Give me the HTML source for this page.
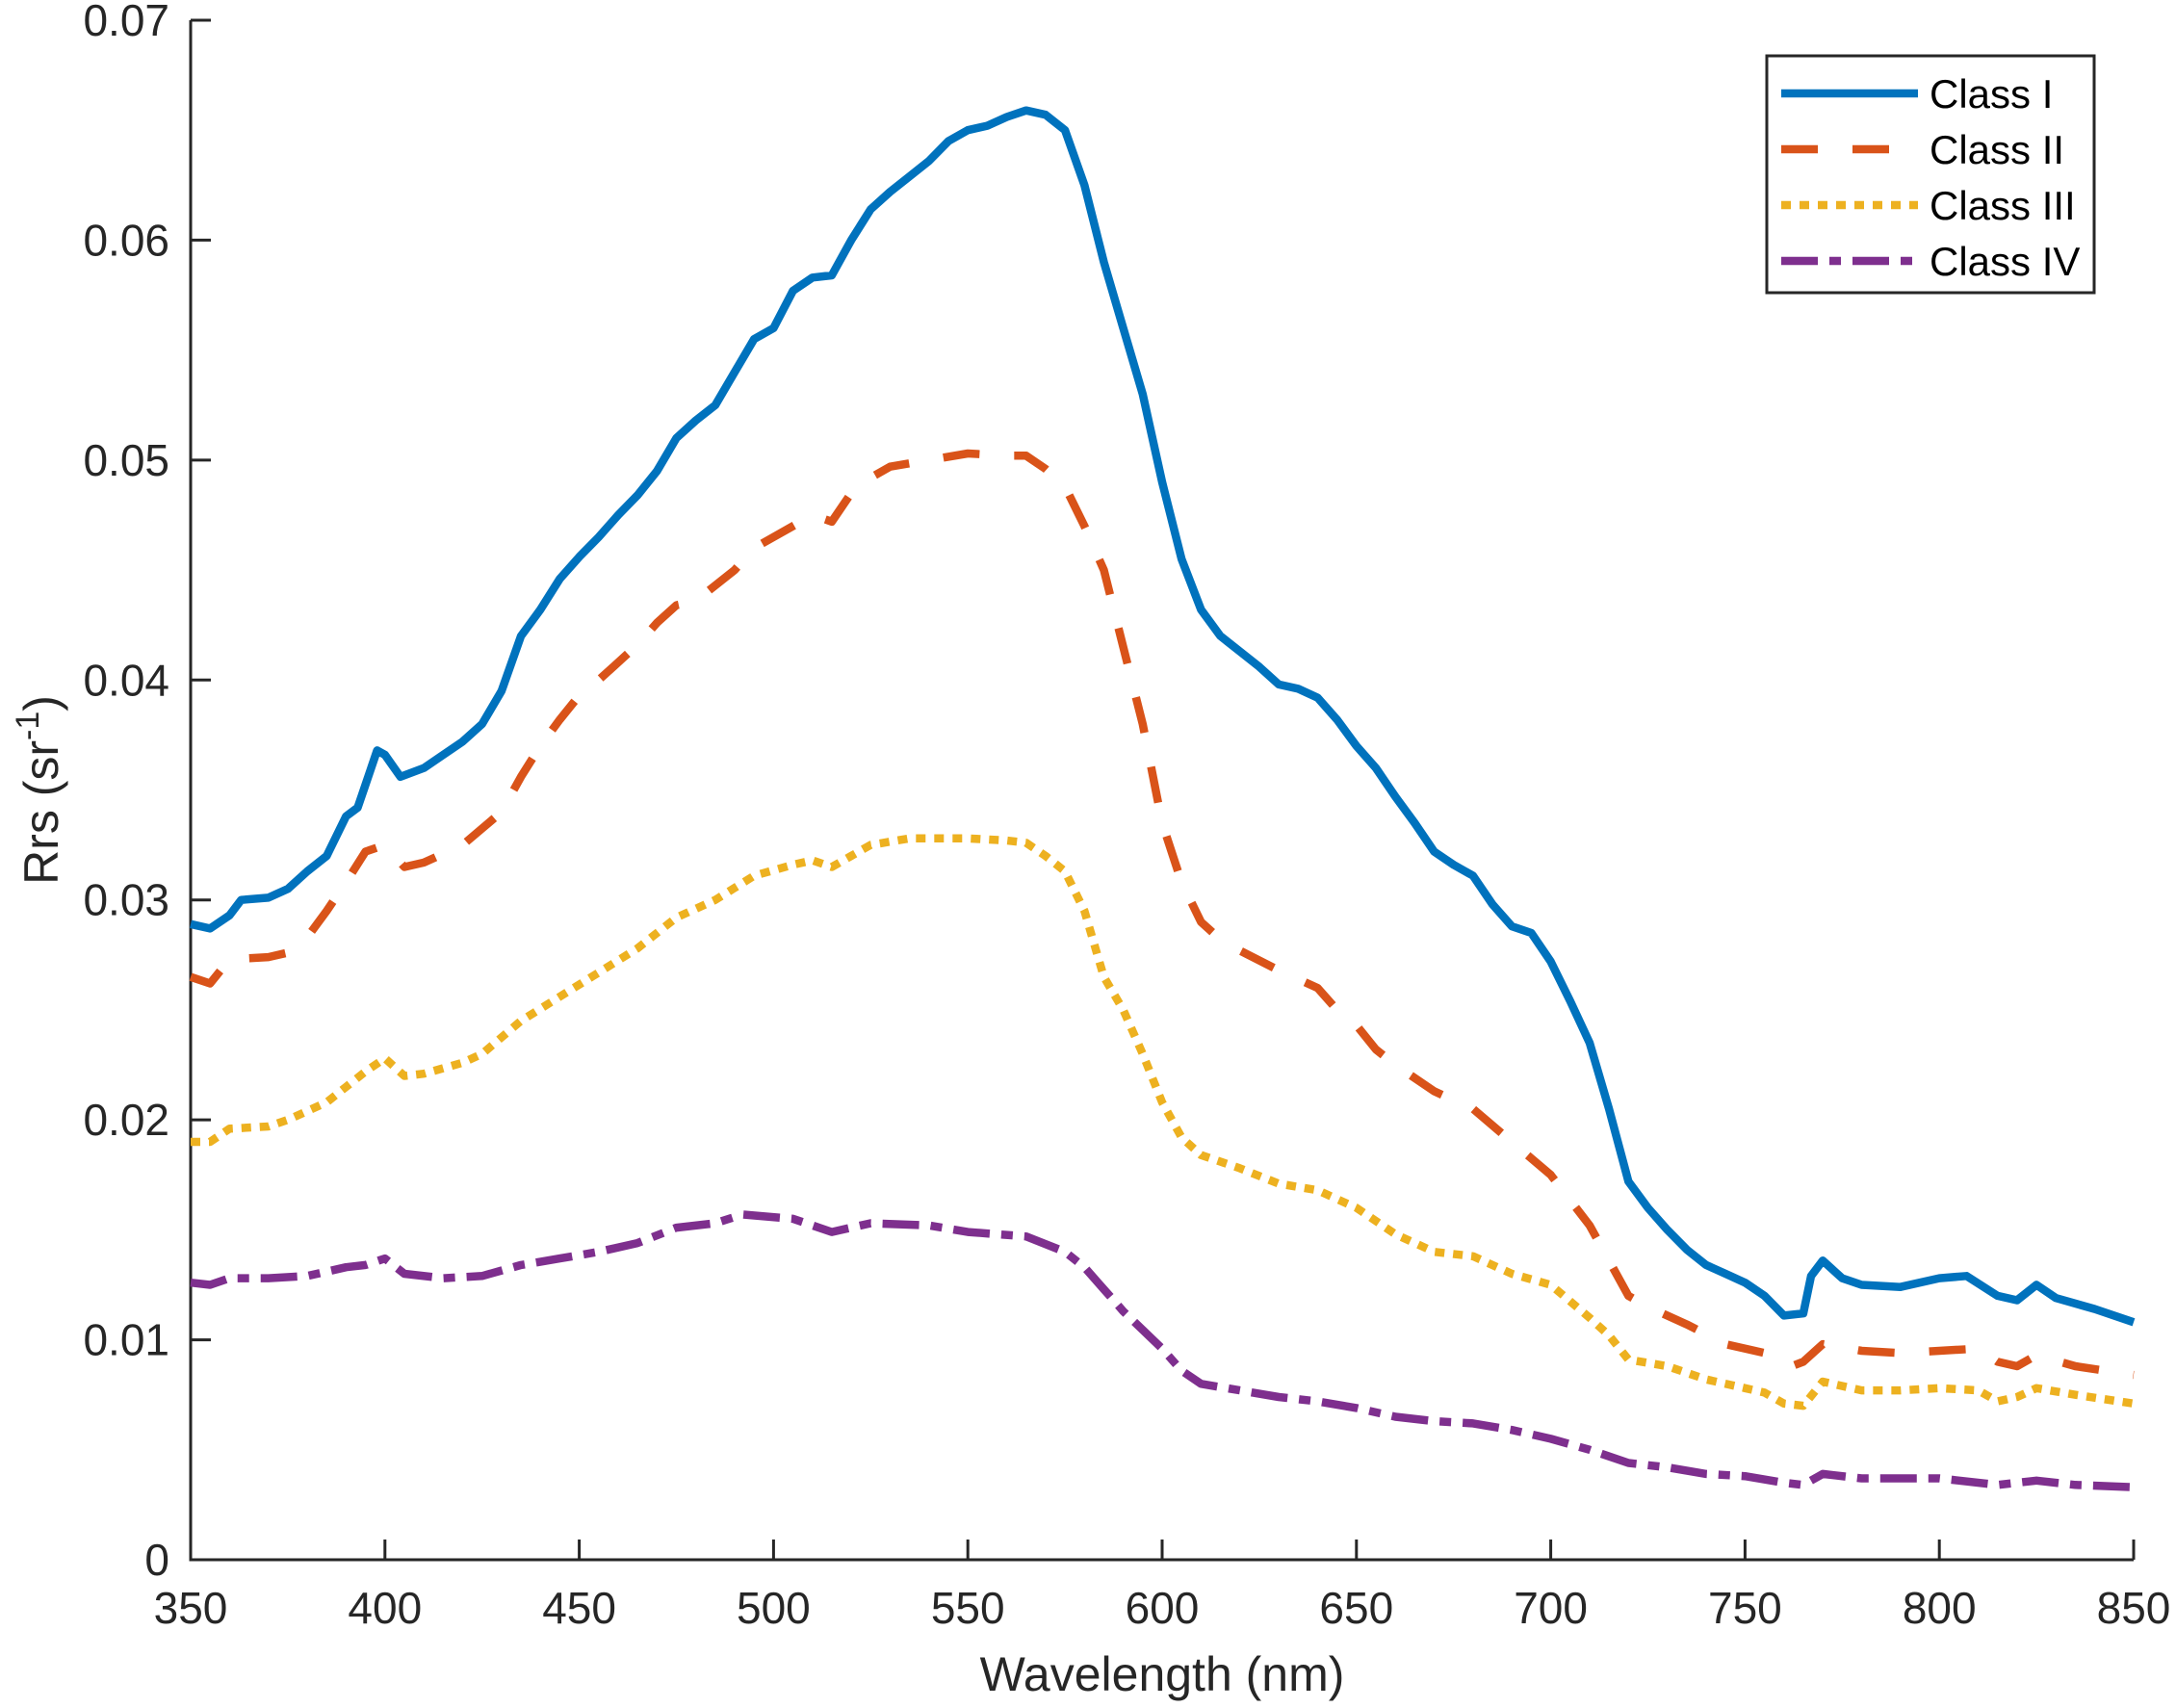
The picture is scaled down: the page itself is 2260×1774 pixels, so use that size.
<!DOCTYPE html>
<html><head><meta charset="utf-8"><style>
html,body{margin:0;padding:0;background:#fff;}
svg{display:block;font-family:"Liberation Sans",Arial,sans-serif;}
</style></head><body>
<svg id="chart" width="2260" height="1774" viewBox="0 0 2260 1774" xmlns="http://www.w3.org/2000/svg"></svg>
<script>
const xTicks=[350,400,450,500,550,600,650,700,750,800,850];
const yTicks=[0,0.01,0.02,0.03,0.04,0.05,0.06,0.07];
const yTickLabels=["0","0.01","0.02","0.03","0.04","0.05","0.06","0.07"];
const seriesNames=["Class I","Class II","Class III","Class IV"];
const wl1=[350,355,360,363,370,375,380,385,390,393,398,400,404,410,415,420,425,430,435,440,445,450,455,460,465,470,475,480,485,490,495,500,505,510,515,520,525,530,535,540,545,550,555,560,565,570,575,580,585,590,595,600,605,610,615,620,625,630,635,640,645,650,655,660,665,670,675,680,685,690,695,700,705,710,715,720,725,730,735,740,745,750,755,760,765,767,770,775,780,790,800,807,815,820,825,830,840,850];
const rrs1=[0.0289,0.0287,0.0293,0.0300,0.0301,0.0305,0.0313,0.0320,0.0338,0.0342,0.0368,0.0366,0.0356,0.0360,0.0366,0.0372,0.0380,0.0395,0.0420,0.0432,0.0446,0.0456,0.0465,0.0475,0.0484,0.0495,0.0510,0.0518,0.0525,0.0540,0.0555,0.0560,0.0577,0.0583,0.0584,0.0600,0.0614,0.0622,0.0629,0.0636,0.0645,0.0650,0.0652,0.0656,0.0659,0.0657,0.0650,0.0625,0.0590,0.0560,0.0530,0.0490,0.0455,0.0432,0.0420,0.0413,0.0406,0.0398,0.0396,0.0392,0.0382,0.0370,0.0360,0.0347,0.0335,0.0322,0.0316,0.0311,0.0298,0.0288,0.0285,0.0272,0.0254,0.0235,0.0205,0.0172,0.0160,0.0150,0.0141,0.0134,0.0130,0.0126,0.0120,0.0111,0.0112,0.0129,0.0136,0.0128,0.0125,0.0124,0.0128,0.0129,0.0120,0.0118,0.0125,0.0119,0.0114,0.0108];
const wl2=[350,355,360,370,375,380,385,390,395,400,405,410,420,430,435,440,445,450,455,460,465,470,475,480,490,495,500,510,515,520,525,530,540,550,560,565,570,575,580,585,590,595,600,605,610,615,620,630,640,645,650,655,660,670,680,690,700,710,720,725,735,745,755,762,765,770,780,790,800,810,815,820,825,835,850];
const rrs2=[0.0265,0.0262,0.0273,0.0274,0.0276,0.0283,0.0295,0.0308,0.0322,0.0325,0.0315,0.0317,0.0325,0.0340,0.0356,0.0370,0.0382,0.0393,0.0400,0.0408,0.0416,0.0426,0.0434,0.0436,0.0450,0.0460,0.0465,0.0475,0.0472,0.0485,0.0492,0.0497,0.0500,0.0503,0.0502,0.0502,0.0496,0.0488,0.0470,0.0450,0.0415,0.0380,0.0335,0.0308,0.0290,0.0282,0.0277,0.0268,0.0260,0.0250,0.0243,0.0232,0.0225,0.0213,0.0205,0.0190,0.0175,0.0152,0.0120,0.0115,0.0107,0.0098,0.0094,0.0088,0.0090,0.0098,0.0095,0.0094,0.0095,0.0096,0.0090,0.0088,0.0093,0.0088,0.0084];
const wl3=[350,355,360,370,375,385,390,395,400,405,410,420,425,435,445,455,465,475,485,495,505,510,515,520,525,535,550,560,565,570,575,580,585,590,595,600,605,610,620,630,640,650,660,670,680,690,700,710,715,720,730,740,750,755,760,765,770,780,790,800,810,815,820,825,835,850];
const rrs3=[0.0190,0.0190,0.0196,0.0197,0.0200,0.0208,0.0215,0.0222,0.0228,0.0220,0.0221,0.0226,0.0230,0.0245,0.0256,0.0267,0.0278,0.0292,0.0300,0.0311,0.0316,0.0318,0.0315,0.0320,0.0325,0.0328,0.0328,0.0327,0.0326,0.0320,0.0313,0.0295,0.0265,0.0250,0.0230,0.0208,0.0192,0.0184,0.0178,0.0171,0.0168,0.0160,0.0148,0.0140,0.0138,0.0130,0.0125,0.0110,0.0102,0.0091,0.0088,0.0082,0.0078,0.0076,0.0071,0.0070,0.0081,0.0077,0.0077,0.0078,0.0077,0.0072,0.0074,0.0078,0.0075,0.0071];
const wl4=[350,355,360,370,380,390,395,400,405,415,425,435,445,455,465,475,485,492,505,515,525,540,550,565,575,580,590,600,605,610,620,630,640,650,660,670,680,690,700,710,720,730,740,750,760,765,770,780,800,815,825,835,850];
const rrs4=[0.0126,0.0125,0.0128,0.0128,0.0129,0.0133,0.0134,0.0137,0.0130,0.0128,0.0129,0.0134,0.0137,0.0140,0.0144,0.0151,0.0153,0.0157,0.0155,0.0149,0.0153,0.0152,0.0149,0.0147,0.0140,0.0133,0.0113,0.0096,0.0086,0.0080,0.0077,0.0074,0.0072,0.0069,0.0065,0.0063,0.0062,0.0059,0.0055,0.0050,0.0044,0.0042,0.0039,0.0038,0.0035,0.0034,0.0039,0.0037,0.0037,0.0034,0.0036,0.0034,0.0033];

const X0=198,X1=2216,Y0=1620,Y1=21;
const xS=w=>X0+(w-350)*(X1-X0)/500;
const yS=v=>Y0-v*(Y0-Y1)/0.07;
const NS="http://www.w3.org/2000/svg";
const svg=document.getElementById('chart');
function mk(tag,attrs,parent){const e=document.createElementNS(NS,tag);for(const k in attrs)e.setAttribute(k,attrs[k]);(parent||svg).appendChild(e);return e;}

const styles=[
 {c:"#0072BD",d:"none"},
 {c:"#D95319",d:"38 36"},
 {c:"#EDB120",d:"10 9"},
 {c:"#7E2F8E",d:"38 12 12 12"}];
const wls=[wl1,wl2,wl3,wl4], vals=[rrs1,rrs2,rrs3,rrs4];

const axes=mk('g',{});


const ax=mk('path',{d:`M${X0},${Y1} L${X0},${Y0} L${X1},${Y0}`,fill:'none',stroke:'#262626','stroke-width':3},axes);


xTicks.forEach(t=>{
 const x=xS(t);
 const tk=mk('line',{x1:x,x2:x,y1:Y0,y2:Y0-21,stroke:'#262626','stroke-width':3},axes);
 
 
 const tl=mk('text',{x:x,y:Y0+66,'text-anchor':'middle','font-size':46,fill:'#262626'},axes);
 
 
 tl.textContent=t;
});
yTicks.forEach((t,i)=>{
 const y=yS(t);
 const tk=mk('line',{x1:X0,x2:X0+21,y1:y,y2:y,stroke:'#262626','stroke-width':3},axes);
 
 
 const tl=mk('text',{x:X0-22,y:y+16,'text-anchor':'end','font-size':46,fill:'#262626'},axes);
 
 
 tl.textContent=yTickLabels[i];
});
const xt=mk('text',{x:(X0+X1)/2,y:1756,'text-anchor':'middle','font-size':50,fill:'#262626'},axes);


xt.textContent="Wavelength (nm)";
const yt=mk('text',{x:0,y:0,transform:`translate(60,${(Y0+Y1)/2}) rotate(-90)`,'text-anchor':'middle','font-size':50,fill:'#262626'},axes);


yt.innerHTML='Rrs (sr<tspan dy="-20" font-size="34">-1</tspan><tspan dy="20">)</tspan>';

wls.forEach((w,i)=>{
 const d=w.map((x,j)=>(j?'L':'M')+xS(x).toFixed(1)+','+yS(vals[i][j]).toFixed(1)).join(' ');
 const p=mk('path',{d:d,fill:'none',stroke:styles[i].c,'stroke-width':8.5,'stroke-dasharray':styles[i].d,'stroke-linejoin':'round'});
 
 
});

const lg=mk('g',{});


const lb=mk('rect',{x:1835,y:58,width:340,height:246,fill:'#fff',stroke:'#262626','stroke-width':3},lg);


seriesNames.forEach((n,i)=>{
 const y=97+i*58;
 const ln=mk('line',{x1:1850,x2:1992,y1:y,y2:y,stroke:styles[i].c,'stroke-width':8.5,'stroke-dasharray':styles[i].d},lg);
 
 
 const t=mk('text',{x:2004,y:y+15,'font-size':42,fill:'#000'},lg);
 
 
 t.textContent=n;
});
</script>
</body></html>
